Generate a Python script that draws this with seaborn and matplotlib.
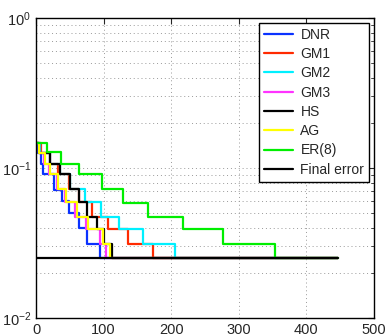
import pandas as pd
import matplotlib
matplotlib.use("Agg")
import matplotlib.pyplot as plt
import seaborn as sns

# step curves: x where each level starts, and the level itself
dnr_x = [0, 3, 7, 11, 26, 38, 49, 63, 76, 94, 447]
dnr_y = [0.146, 0.125, 0.107, 0.091, 0.071, 0.060, 0.050, 0.040, 0.031, 0.025, 0.025]

gm1_x = [0, 7, 20, 33, 49, 64, 83, 107, 136, 173, 447]
gm1_y = [0.146, 0.125, 0.107, 0.091, 0.072, 0.059, 0.047, 0.039, 0.031, 0.025, 0.025]

gm2_x = [0, 6, 21, 36, 51, 72, 96, 123, 159, 205, 447]
gm2_y = [0.146, 0.125, 0.107, 0.091, 0.072, 0.059, 0.047, 0.039, 0.031, 0.025, 0.025]

gm3_x = [0, 5, 12, 19, 31, 43, 57, 74, 95, 104, 447]
gm3_y = [0.146, 0.125, 0.107, 0.091, 0.072, 0.059, 0.047, 0.039, 0.031, 0.025, 0.025]

hs_x = [0, 5, 21, 35, 50, 64, 76, 90, 101, 113, 447]
hs_y = [0.146, 0.125, 0.107, 0.091, 0.072, 0.059, 0.047, 0.039, 0.031, 0.025, 0.025]

ag_x = [0, 5, 13, 21, 33, 45, 60, 77, 99, 109, 447]
ag_y = [0.146, 0.125, 0.107, 0.091, 0.072, 0.059, 0.047, 0.039, 0.031, 0.025, 0.025]

er_x = [0, 16, 37, 64, 97, 129, 166, 217, 277, 354, 447]
er_y = [0.146, 0.128, 0.107, 0.091, 0.072, 0.058, 0.047, 0.039, 0.031, 0.025, 0.025]

final_x = [0, 447]
final_y = [0.025, 0.025]

names = ["DNR", "GM1", "GM2", "GM3", "HS", "AG", "ER(8)", "Final error"]
series = [(dnr_x, dnr_y), (gm1_x, gm1_y), (gm2_x, gm2_y), (gm3_x, gm3_y),
          (hs_x, hs_y), (ag_x, ag_y), (er_x, er_y), (final_x, final_y)]
colors = ["#0a32ff", "#ff2a00", "#00f0ff", "#ff33ff", "#000000", "#ffff00", "#00ee00", "#000000"]

rows = []
for name, (xs, ys) in zip(names, series):
    for x, y in zip(xs, ys):
        rows.append({"iter": x, "err": y, "method": name})
df = pd.DataFrame(rows)

sns.set_style("white")
plt.rcParams["font.family"] = ["Liberation Sans", "DejaVu Sans"]
plt.rcParams["mathtext.fontset"] = "custom"
plt.rcParams["mathtext.rm"] = "Liberation Sans"
plt.rcParams["mathtext.it"] = "Liberation Sans"

fig = plt.figure(figsize=(3.88, 3.36), dpi=100)
ax = fig.add_axes([0.0928, 0.0536, 0.8711, 0.8929])

sns.lineplot(data=df, x="iter", y="err", hue="method", hue_order=names,
             palette=dict(zip(names, colors)), drawstyle="steps-post",
             linewidth=1.6, estimator=None, sort=True, ax=ax)

ax.set_yscale("log")
ax.set_xlim(0, 500)
ax.set_ylim(0.01, 1)
ax.set_xticks([0, 100, 200, 300, 400, 500])
ax.set_xlabel("")
ax.set_ylabel("")
ax.grid(True, which="major", linestyle=(0, (1, 3)), color="#999999", linewidth=0.7)
ax.grid(True, which="minor", axis="y", linestyle=(0, (1, 3)), color="#999999", linewidth=0.7)
ax.tick_params(which="both", direction="in", top=True, right=True, labelsize=10.5)
ax.tick_params(which="major", length=4)
ax.tick_params(which="minor", length=2)
for s in ax.spines.values():
    s.set_color("black")
    s.set_linewidth(1.0)

leg = ax.legend(loc="upper right", fontsize=10, handlelength=2.1, labelspacing=0.38,
                borderaxespad=0.35, borderpad=0.35, handletextpad=0.5,
                fancybox=False, framealpha=1, edgecolor="black")
leg.get_frame().set_linewidth(1.0)

fig.savefig("out.png", dpi=100)
